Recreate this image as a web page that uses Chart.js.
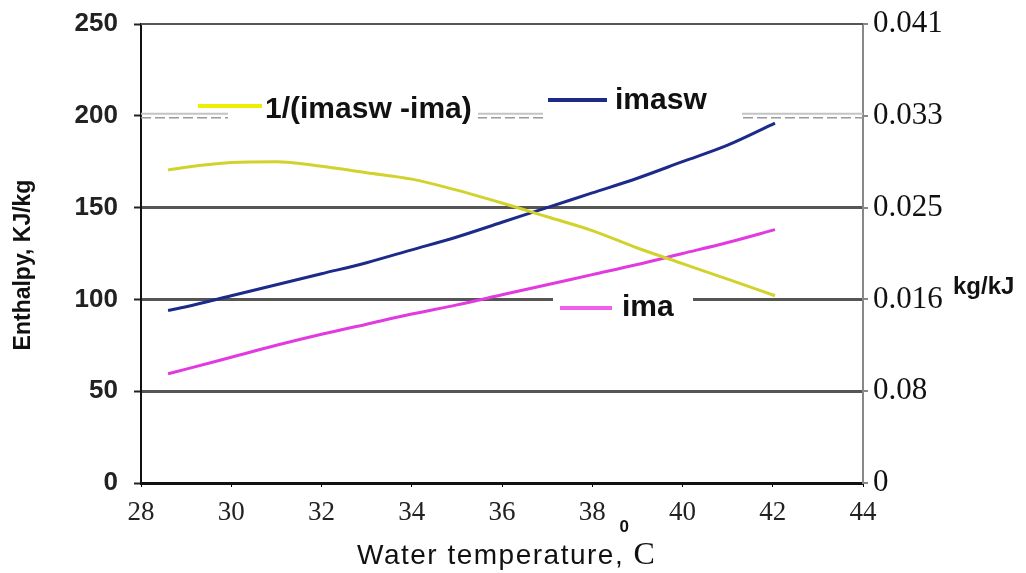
<!DOCTYPE html>
<html>
<head>
<meta charset="utf-8">
<script src="https://cdn.jsdelivr.net/npm/chart.js@4.4.1/dist/chart.umd.min.js"></script>
<style>
  html, body { margin: 0; padding: 0; background: #fff; }
  #wrap { width: 1026px; height: 573px; }
</style>
</head>
<body>
<div id="wrap"><canvas id="chart" width="1026" height="573"></canvas></div>
<script>
// data (water temperature, degC)
const temps    = [28.6, 29, 30, 31, 32, 33, 34, 35, 36, 37, 38, 39, 40, 41, 42.05];
const imasw    = [94, 96, 102, 108, 114, 120, 127, 134, 142, 150, 158, 166, 175, 184, 196];
const ima      = [59.5, 62, 68.5, 75, 81, 86.5, 92, 97, 102.5, 108, 113.5, 119, 125, 131, 138];
// 1/(imasw-ima), drawn against the right axis (same 0..250 grid)
const invDiff  = [170.5, 172, 174.5, 175, 172.5, 169, 165.5, 159.5, 152.5, 145, 137.5, 128, 119.5, 111, 102];

const rightTickLabels = ['0', '0.08', '0.016', '0.025', '0.033', '0.041'];

const toXY = (ys) => ys.map((y, i) => ({ x: temps[i], y: y }));

// legend entries placed inside the plot, like the original
const legendItems = [
  { text: '1/(imasw -ima)', color: '#eeee00', line: [198, 262, 106], tx: 265, ty: 110, mask: [228, 90, 250, 38] },
  { text: 'imasw', color: '#1c2a8a', line: [548, 607, 100], tx: 615, ty: 101, mask: [543, 84, 199, 40] },
  { text: 'ima', color: '#f060f0', line: [560, 612, 308], tx: 622, ty: 308, mask: [553, 292, 140, 34] }
];

const decorPlugin = {
  id: 'decor',
  beforeDatasetsDraw(chart) {
    const c = chart.ctx, a = chart.chartArea, y = chart.scales.y;
    // double light gridline at 200
    const p = y.getPixelForValue(200);
    c.save();
    c.strokeStyle = '#c4c4c4'; c.lineWidth = 2;
    c.beginPath(); c.moveTo(a.left, p - 2); c.lineTo(a.right, p - 2); c.stroke();
    c.strokeStyle = '#9a9a9a'; c.lineWidth = 1.5; c.setLineDash([10, 4]);
    c.beginPath(); c.moveTo(a.left, p + 2); c.lineTo(a.right, p + 2); c.stroke();
    c.setLineDash([]);
    // top border
    c.strokeStyle = '#555'; c.lineWidth = 2;
    c.beginPath(); c.moveTo(a.left, a.top); c.lineTo(a.right, a.top); c.stroke();
    c.restore();
  },
  afterDraw(chart) {
    const c = chart.ctx;
    c.save();
    legendItems.forEach(it => {
      c.fillStyle = '#fff';
      c.fillRect(it.mask[0], it.mask[1], it.mask[2], it.mask[3]);
    });
    legendItems.forEach(it => {
      c.strokeStyle = it.color; c.lineWidth = 4;
      c.beginPath(); c.moveTo(it.line[0], it.line[2]); c.lineTo(it.line[1], it.line[2]); c.stroke();
      c.fillStyle = '#111';
      c.font = 'bold 30px "Liberation Sans", Arial, sans-serif';
      c.textAlign = 'left'; c.textBaseline = 'middle';
      c.fillText(it.text, it.tx, it.ty);
    });

    // left axis title
    c.fillStyle = '#111';
    c.font = 'bold 23px "Liberation Sans", Arial, sans-serif';
    c.translate(24, 265);
    c.rotate(-Math.PI / 2);
    c.textAlign = 'center'; c.textBaseline = 'middle';
    c.fillText('Enthalpy, KJ/kg', 0, 0);
    c.setTransform(1, 0, 0, 1, 0, 0);

    // right axis title
    c.font = 'bold 24px "Liberation Sans", Arial, sans-serif';
    c.textAlign = 'left';
    c.fillText('kg/kJ', 953, 287);

    // x axis title with superscript degree
    c.font = '28px "Liberation Sans", Arial, sans-serif';
    c.letterSpacing = '1.5px';
    c.textAlign = 'left'; c.textBaseline = 'middle';
    const t = 'Water temperature, ';
    const w = c.measureText(t).width;
    const x0 = 357;
    c.fillText(t, x0, 556);
    c.letterSpacing = '0px';
    c.font = '32px "Liberation Serif", serif';
    c.fillText('C', x0 + w, 556);
    c.font = 'bold 17px "Liberation Sans", Arial, sans-serif';
    c.fillText('0', x0 + w - 14, 527);
    c.restore();
  }
};

const common = { fill: false, pointRadius: 0, tension: 0.4, cubicInterpolationMode: 'monotone' };
const noPad = s => { s.paddingTop = 0; s.paddingBottom = 0; };

new Chart(document.getElementById('chart'), {
  type: 'line',
  data: {
    datasets: [
      Object.assign({ label: '1/(imasw -ima)', data: toXY(invDiff), borderColor: '#d2d22c', borderWidth: 3, yAxisID: 'y2' }, common),
      Object.assign({ label: 'imasw', data: toXY(imasw), borderColor: '#1c2a8a', borderWidth: 3, yAxisID: 'y' }, common),
      Object.assign({ label: 'ima', data: toXY(ima), borderColor: '#e03ae0', borderWidth: 3, yAxisID: 'y' }, common)
    ]
  },
  options: {
    responsive: false,
    animation: false,
    layout: { padding: { top: 24, left: 0, right: 0, bottom: 0 } },
    plugins: { legend: { display: false }, tooltip: { enabled: false } },
    scales: {
      x: {
        type: 'linear', min: 28, max: 44,
        ticks: { stepSize: 2, color: '#222', padding: 10, font: { family: '"Liberation Serif", serif', size: 27 } },
        grid: { drawOnChartArea: false, color: '#000', tickLength: 4 },
        border: { color: '#111', width: 3 },
        afterFit: s => { s.height = 90; s.paddingLeft = 0; s.paddingRight = 0; }
      },
      y: {
        position: 'left', min: 0, max: 250,
        ticks: { stepSize: 50, color: '#222', padding: 16, font: { family: '"Liberation Sans", Arial, sans-serif', size: 26, weight: 'bold' } },
        grid: {
          color: ctx => (ctx.tick && [50, 100, 150].includes(ctx.tick.value)) ? '#555' : 'rgba(0,0,0,0)',
          lineWidth: 3,
          tickColor: '#222',
          tickWidth: 2,
          tickLength: 7
        },
        border: { color: '#111', width: 2 },
        afterFit: s => { s.width = 141; noPad(s); }
      },
      y2: {
        position: 'right', min: 0, max: 250,
        ticks: {
          stepSize: 50, color: '#111', padding: 5,
          font: { family: '"Liberation Serif", serif', size: 31 },
          callback: (v, i) => rightTickLabels[i]
        },
        grid: { drawOnChartArea: false, color: '#888', tickLength: 5, lineWidth: 2 },
        border: { color: '#888', width: 2 },
        afterFit: s => { s.width = 163; noPad(s); }
      }
    }
  },
  plugins: [decorPlugin]
});
</script>
</body>
</html>
